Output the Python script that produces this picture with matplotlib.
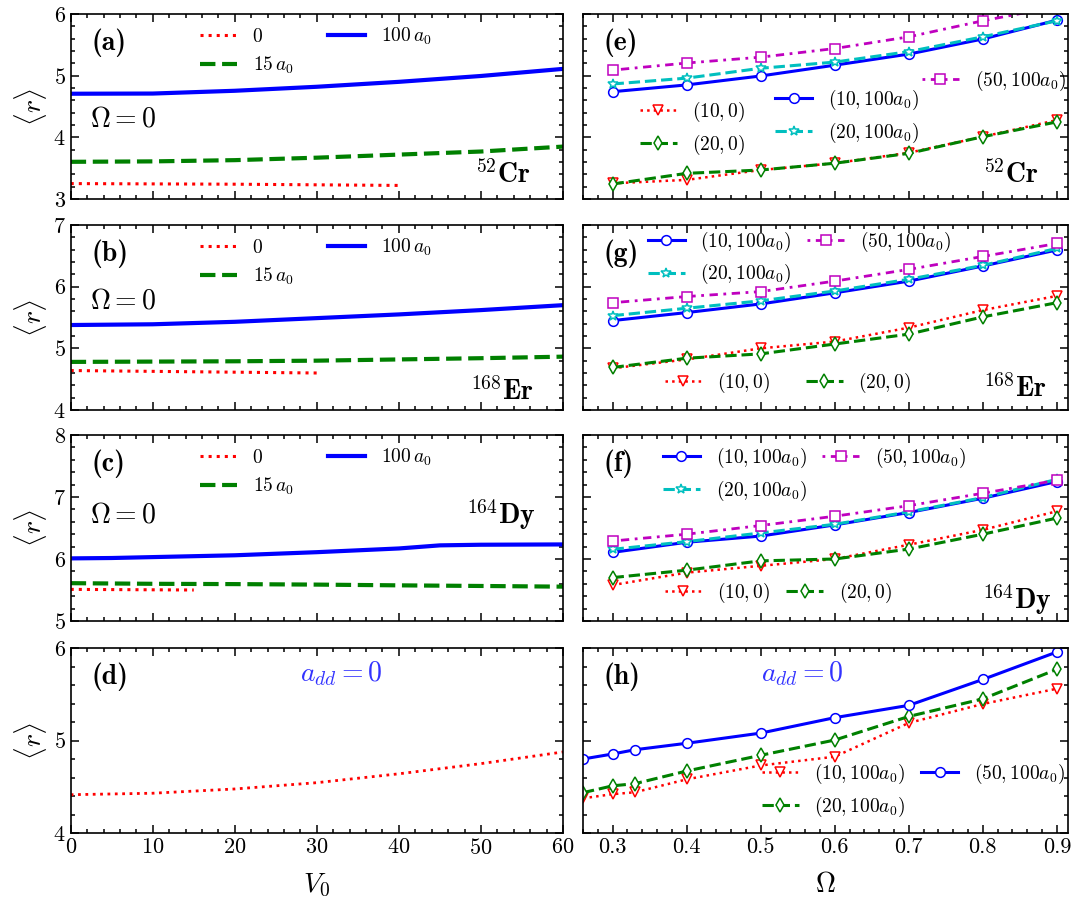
import matplotlib.pyplot as plt
from matplotlib.ticker import MultipleLocator

plt.rcParams.update({
    'font.family': 'serif',
    'font.serif': ['cmr10'],
    'mathtext.fontset': 'cm',
    'axes.formatter.use_mathtext': True,
    'axes.unicode_minus': False,
    'axes.linewidth': 1.2,
})

# ---------------- data: <r> versus V0 at Omega = 0 ----------------
v0 = [0, 10, 20, 30, 40, 50, 60]

cr_v0_red = [0, 20, 40]
cr_red = [3.25, 3.24, 3.22]
cr_green = [3.603, 3.61, 3.63, 3.67, 3.72, 3.77, 3.85]
cr_blue = [4.707, 4.71, 4.755, 4.82, 4.90, 4.995, 5.11]

er_v0_red = [0, 15, 30]
er_red = [4.64, 4.62, 4.60]
er_green = [4.78, 4.785, 4.79, 4.80, 4.82, 4.84, 4.865]
er_blue = [5.378, 5.39, 5.43, 5.49, 5.55, 5.62, 5.70]

dy_v0_red = [0, 15]
dy_red = [5.51, 5.50]
dy_green = [5.61, 5.60, 5.595, 5.587, 5.575, 5.565, 5.554]
dy_v0_blue = [0, 5, 20, 30, 40, 45, 50, 60]
dy_blue = [6.01, 6.016, 6.06, 6.11, 6.17, 6.22, 6.23, 6.235]

nd_red = [4.414, 4.43, 4.476, 4.544, 4.64, 4.75, 4.876]

# ---------------- data: <r> versus Omega ----------------
om = [0.3, 0.4, 0.5, 0.6, 0.7, 0.8, 0.9]

cr_10_0 = [3.254, 3.31, 3.47, 3.58, 3.75, 4.01, 4.28]
cr_20_0 = [3.243, 3.416, 3.47, 3.58, 3.74, 4.01, 4.25]
cr_10_100 = [4.74, 4.85, 4.995, 5.17, 5.35, 5.595, 5.90]
cr_20_100 = [4.865, 4.96, 5.12, 5.22, 5.39, 5.63, 5.89]
cr_50_100 = [5.09, 5.205, 5.30, 5.44, 5.63, 5.89, 6.12]

er_10_0 = [4.676, 4.82, 5.00, 5.11, 5.335, 5.62, 5.85]
er_20_0 = [4.69, 4.84, 4.91, 5.07, 5.23, 5.51, 5.74]
er_10_100 = [5.45, 5.58, 5.72, 5.90, 6.09, 6.335, 6.595]
er_20_100 = [5.53, 5.65, 5.77, 5.93, 6.12, 6.345, 6.62]
er_50_100 = [5.74, 5.84, 5.92, 6.09, 6.28, 6.49, 6.70]

dy_10_0 = [5.58, 5.78, 5.89, 6.00, 6.23, 6.47, 6.77]
dy_20_0 = [5.70, 5.82, 5.97, 6.00, 6.16, 6.40, 6.66]
dy_10_100 = [6.107, 6.27, 6.37, 6.55, 6.75, 6.98, 7.25]
dy_20_100 = [6.156, 6.28, 6.42, 6.56, 6.76, 6.99, 7.285]
dy_50_100 = [6.29, 6.40, 6.54, 6.69, 6.86, 7.06, 7.27]

om_nd = [0.26, 0.3, 0.33, 0.4, 0.5, 0.6, 0.7, 0.8, 0.9]
nd_10_100 = [4.375, 4.42, 4.44, 4.58, 4.73, 4.825, 5.19, 5.395, 5.56]
nd_20_100 = [4.436, 4.51, 4.533, 4.67, 4.84, 5.005, 5.26, 5.45, 5.77]
nd_50_100 = [4.80, 4.854, 4.90, 4.97, 5.08, 5.247, 5.38, 5.66, 5.957]

# ---------------- layout ----------------
fig = plt.figure(figsize=(10.73, 9.02), dpi=100)
W, H = 1073.0, 902.0
xl0, xl1 = 70.7, 563.0
xr0, xr1 = 583.0, 1068.0
rows = [(14, 199), (225, 410), (435, 621), (648, 833)]


def make_ax(x0, x1, y0, y1):
    return fig.add_axes([x0 / W, 1 - y1 / H, (x1 - x0) / W, (y1 - y0) / H])


def style(ax, ymaj, ymin, xmaj, xmin):
    ax.xaxis.set_major_locator(MultipleLocator(xmaj))
    ax.xaxis.set_minor_locator(MultipleLocator(xmin))
    ax.yaxis.set_major_locator(MultipleLocator(ymaj))
    ax.yaxis.set_minor_locator(MultipleLocator(ymin))
    ax.tick_params(which='both', direction='in', top=True, right=True,
                   labelsize=16, width=1.1)
    ax.tick_params(which='major', length=6)
    ax.tick_params(which='minor', length=3)


ylims = [(3, 6), (4, 7), (5, 8), (4, 6)]
left_axes, right_axes = [], []
for i, (y0, y1) in enumerate(rows):
    axl = make_ax(xl0, xl1, y0, y1)
    axr = make_ax(xr0, xr1, y0, y1)
    for ax in (axl, axr):
        ax.set_ylim(*ylims[i])
    axl.set_xlim(0, 60)
    axr.set_xlim(0.26, 0.915)
    style(axl, 1, 0.2, 10, 2)
    style(axr, 1, 0.2, 0.1, 0.02)
    axr.tick_params(labelleft=False)
    if i < 3:
        axl.tick_params(labelbottom=False)
        axr.tick_params(labelbottom=False)
    axl.set_ylabel(r'$\langle r\rangle$', fontsize=20, labelpad=3)
    left_axes.append(axl)
    right_axes.append(axr)

axa, axb, axc, axd = left_axes
axe, axg, axf, axh = right_axes

axd.set_xlabel(r'$V_0$', fontsize=20, labelpad=10)
axh.set_xlabel(r'$\Omega$', fontsize=20, labelpad=10)
axh.set_xticks([0.3, 0.4, 0.5, 0.6, 0.7, 0.8, 0.9])
axh.set_xticklabels(['0.3', '0.4', '0.5', '0.6', '0.7', '0.8', '0.9'])

RED, GREEN, BLUE, CYAN, MAG = 'red', 'green', 'blue', 'c', 'm'


def v0_panel(ax, vr, red, green, vb, blue, omega_y):
    ax.plot(vr, red, ':', color=RED, lw=2.2, label='0')
    ax.plot(v0, green, '--', color=GREEN, lw=3, label=r'$15\,a_0$')
    ax.plot(vb, blue, '-', color=BLUE, lw=3, label=r'$100\,a_0$')
    ax.legend(loc='center left', bbox_to_anchor=(0.263, 0.80), ncol=2,
              frameon=False, fontsize=14, handlelength=1.9, handletextpad=0.8,
              columnspacing=1.8, labelspacing=0.45, borderpad=0,
              borderaxespad=0)
    ax.text(0.04, omega_y, r'$\Omega=0$', transform=ax.transAxes,
            fontsize=20, va='center', ha='left')


v0_panel(axa, cr_v0_red, cr_red, cr_green, v0, cr_blue, 0.43)
v0_panel(axb, er_v0_red, er_red, er_green, v0, er_blue, 0.59)
v0_panel(axc, dy_v0_red, dy_red, dy_green, dy_v0_blue, dy_blue, 0.57)
axd.plot(v0, nd_red, ':', color=RED, lw=2)

mk = dict(markerfacecolor='white', markersize=7, markeredgewidth=1.1)


def om_lines(ax, x, r10_0=None, g20_0=None, b10=None, c20=None, m50=None):
    h = {}
    if r10_0 is not None:
        h['r'], = ax.plot(x, r10_0, ':', color=RED, lw=1.8, marker='v',
                          markeredgecolor=RED, **mk)
    if g20_0 is not None:
        h['g'], = ax.plot(x, g20_0, '--', color=GREEN, lw=2.2, marker='d',
                          markeredgecolor=GREEN, **mk)
    if b10 is not None:
        h['b'], = ax.plot(x, b10, '-', color=BLUE, lw=2.2, marker='o',
                          markeredgecolor=BLUE, **mk)
    if c20 is not None:
        h['c'], = ax.plot(x, c20, '--', color=CYAN, lw=2.2, marker='*',
                          markeredgecolor=CYAN, **mk)
    if m50 is not None:
        h['m'], = ax.plot(x, m50, color=MAG, lw=2, marker='s',
                          dashes=[1, 2, 3, 2], markeredgecolor=MAG, **mk)
    return h


leg_kw = dict(frameon=False, fontsize=14, handlelength=1.9,
              handletextpad=0.8, columnspacing=0.8, labelspacing=0.45,
              borderpad=0, borderaxespad=0, loc='center left')

l10_0 = r'$(10,0)$'
l20_0 = r'$(20,0)$'
l10 = r'$(10,100a_0)$'
l20 = r'$(20,100a_0)$'
l50 = r'$(50,100a_0)$'

# (e) 52Cr
h = om_lines(axe, om, cr_10_0, cr_20_0, cr_10_100, cr_20_100, cr_50_100)
lg1 = axe.legend([h['r'], h['g']], [l10_0, l20_0],
                 bbox_to_anchor=(0.1175, 0.381), **leg_kw)
axe.add_artist(lg1)
lg2 = axe.legend([h['b'], h['c']], [l10, l20],
                 bbox_to_anchor=(0.396, 0.446), **leg_kw)
axe.add_artist(lg2)
axe.legend([h['m']], [l50], bbox_to_anchor=(0.699, 0.638), **leg_kw)

# (g) 168Er
h = om_lines(axg, om, er_10_0, er_20_0, er_10_100, er_20_100, er_50_100)
lg1 = axg.legend([h['b'], h['c'], h['m']], [l10, l20, l50], ncol=2,
                 bbox_to_anchor=(0.134, 0.822), **leg_kw)
axg.add_artist(lg1)
kw2 = dict(leg_kw)
kw2['columnspacing'] = 1.8
axg.legend([h['r'], h['g']], [l10_0, l20_0], ncol=2,
           bbox_to_anchor=(0.169, 0.146), **kw2)

# (f) 164Dy
h = om_lines(axf, om, dy_10_0, dy_20_0, dy_10_100, dy_20_100, dy_50_100)
lg1 = axf.legend([h['b'], h['c'], h['m']], [l10, l20, l50], ncol=2,
                 bbox_to_anchor=(0.165, 0.788), **leg_kw)
axf.add_artist(lg1)
axf.legend([h['r'], h['g']], [l10_0, l20_0], ncol=2,
           bbox_to_anchor=(0.169, 0.15), **leg_kw)

# (h) no dipolar interaction
h = om_lines(axh, om_nd, nd_10_100, nd_20_100, nd_50_100)
axh.legend([h['r'], h['g'], h['b']], [l10, l20, l50], ncol=2,
           bbox_to_anchor=(0.369, 0.232), **leg_kw)

# panel tags
tags = [(axa, '(a)'), (axb, '(b)'), (axc, '(c)'), (axd, '(d)'),
        (axe, '(e)'), (axg, '(g)'), (axf, '(f)'), (axh, '(h)')]
for ax, t in tags:
    ax.text(0.043, 0.843, t, transform=ax.transAxes, family='cmb10',
            fontsize=20, va='center', ha='left')

# species labels
species = [
    (axa, r'$^{52}\mathbf{Cr}$', 0.935, 0.13),
    (axb, r'$^{168}\mathbf{Er}$', 0.94, 0.1),
    (axc, r'$^{164}\mathbf{Dy}$', 0.945, 0.57),
    (axe, r'$^{52}\mathbf{Cr}$', 0.94, 0.13),
    (axg, r'$^{168}\mathbf{Er}$', 0.955, 0.115),
    (axf, r'$^{164}\mathbf{Dy}$', 0.965, 0.115),
]
for ax, t, x, y in species:
    ax.text(x, y, t, transform=ax.transAxes, fontsize=20,
            va='center', ha='right')

for ax, x in [(axd, 0.55), (axh, 0.452)]:
    ax.text(x, 0.86, r'$a_{dd}=0$', transform=ax.transAxes, fontsize=20,
            color=(0.2, 0.2, 1.0), va='center', ha='center')

fig.savefig('out.png', dpi=100)
